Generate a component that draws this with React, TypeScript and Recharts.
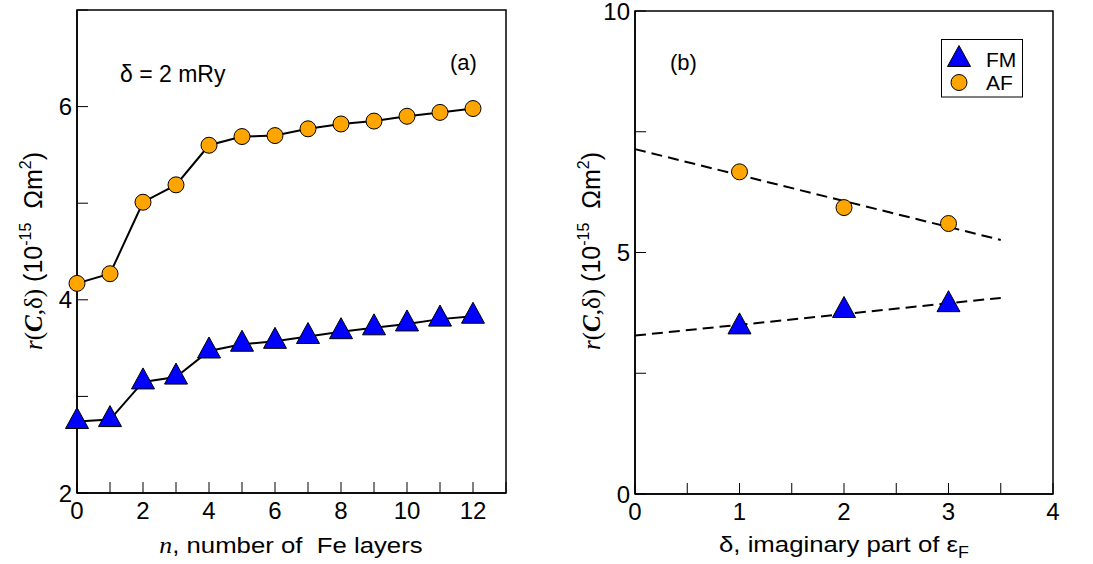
import { ComposedChart, Line, Scatter, XAxis, YAxis, ReferenceArea } from 'recharts'

// panel (a): r(C,δ) against number of Fe layers, δ = 2 mRy
const layers = [0, 1, 2, 3, 4, 5, 6, 7, 8, 9, 10, 11, 12]
const fmLayers = [2.74, 2.76, 3.15, 3.2, 3.47, 3.54, 3.57, 3.62, 3.67, 3.71, 3.75, 3.8, 3.83]
const afLayers = [4.17, 4.27, 5.01, 5.19, 5.6, 5.69, 5.7, 5.77, 5.82, 5.85, 5.9, 5.94, 5.98]

// panel (b): r(C,δ) against δ
const deltas = [1, 2, 3]
const fmDelta = [3.46, 3.8, 3.92]
const afDelta = [6.67, 5.93, 5.6]

// dashed linear fits, read at δ = 0 and δ = 3.5
const fitDelta = [0, 3.5]
const fmFit = [3.28, 4.06]
const afFit = [7.14, 5.26]

const ticksXa = [0, 1, 2, 3, 4, 5, 6, 7, 8, 9, 10, 11, 12, 13]
const ticksYa = [2, 3, 4, 5, 6, 7]
const ticksXb = [0, 0.5, 1, 1.5, 2, 2.5, 3, 3.5, 4]
const ticksYb = [0, 2.5, 5, 7.5, 10]

const dataA = layers.map((n, i) => ({ n, fm: fmLayers[i], af: afLayers[i] }))
const fmB = deltas.map((d, i) => ({ d, v: fmDelta[i] }))
const afB = deltas.map((d, i) => ({ d, v: afDelta[i] }))
const fmFitB = fitDelta.map((d, i) => ({ d, v: fmFit[i] }))
const afFitB = fitDelta.map((d, i) => ({ d, v: afFit[i] }))

const SANS = "'Liberation Sans', Arial, Helvetica, sans-serif"
const SERIF = "'Liberation Serif', 'Times New Roman', serif"
const BLUE = '#0000ff'
const ORANGE = '#ffa500'

const tickStyle = { fill: '#000', fontSize: 24, fontFamily: SANS }

function Triangle(p: any) {
  const { cx, cy } = p
  if (cx == null || cy == null) return null
  return (
    <path
      key={p.key}
      d={`M${cx},${cy - 14}L${cx + 11.5},${cy + 7}L${cx - 11.5},${cy + 7}Z`}
      fill={BLUE}
      stroke="#000"
      strokeWidth={1}
    />
  )
}

function Dot(p: any) {
  const { cx, cy } = p
  if (cx == null || cy == null) return null
  return <circle key={p.key} cx={cx} cy={cy} r={8} fill={ORANGE} stroke="#000" strokeWidth={1} />
}

const sup = { fontSize: 16, fontFamily: SANS }

function YTitle({ x, y }: { x: number; y: number }) {
  return (
    <text transform={`translate(${x},${y}) rotate(-90)`} textAnchor="middle" fontSize={25} fontFamily={SANS} fill="#000">
      <tspan fontFamily={SERIF} fontStyle="italic">r</tspan>
      <tspan fontFamily={SERIF}>(</tspan>
      <tspan fontFamily={SERIF} fontStyle="italic" fontWeight="bold">C</tspan>
      <tspan fontFamily={SERIF}>,δ)</tspan>
      <tspan style={{ whiteSpace: 'pre' }}> (10</tspan>
      <tspan {...sup} dy={-11}>-15</tspan>
      <tspan dy={11} style={{ whiteSpace: 'pre' }}>  Ωm</tspan>
      <tspan {...sup} dy={-11}>2</tspan>
      <tspan dy={11}>)</tspan>
    </text>
  )
}

export default function App() {
  return (
    <div style={{ position: 'absolute', left: 0, top: 0, width: 1093, height: 564, background: '#fff' }}>
      <div style={{ position: 'absolute', left: 0, top: 0 }}>
        <ComposedChart width={540} height={564} data={dataA} margin={{ top: 10, right: 34, left: 17, bottom: 31 }}>
          <XAxis
            dataKey="n"
            type="number"
            domain={[0, 13]}
            ticks={ticksXa}
            interval={0}
            tickFormatter={(v: number) => (v % 2 === 0 && v <= 12 ? String(v) : '')}
            height={40}
            tickSize={-11}
            tickMargin={20}
            tick={tickStyle}
            tickLine={{ stroke: '#000', strokeWidth: 1 }}
            axisLine={{ stroke: '#000', strokeWidth: 1.5 }}
          />
          <YAxis
            type="number"
            domain={[2, 7]}
            ticks={ticksYa}
            interval={0}
            tickFormatter={(v: number) => (v % 2 === 0 ? String(v) : '')}
            width={60}
            tickSize={-11}
            tickMargin={16}
            tick={tickStyle}
            tickLine={{ stroke: '#000', strokeWidth: 1 }}
            axisLine={{ stroke: '#000', strokeWidth: 1.5 }}
          />
          <ReferenceArea x1={0} x2={13} y1={2} y2={7} fill="none" fillOpacity={0} stroke="#000" strokeWidth={1.5} />
          <Line dataKey="af" stroke="#000" strokeWidth={2} dot={Dot} isAnimationActive={false} />
          <Line dataKey="fm" stroke="#000" strokeWidth={2} dot={Triangle} isAnimationActive={false} />
        </ComposedChart>
      </div>
      <div style={{ position: 'absolute', left: 540, top: 0 }}>
        <ComposedChart width={553} height={564} margin={{ top: 11, right: 40, left: 35, bottom: 30 }}>
          <XAxis
            dataKey="d"
            type="number"
            domain={[0, 4]}
            ticks={ticksXb}
            interval={0}
            tickFormatter={(v: number) => (Number.isInteger(v) ? String(v) : '')}
            height={40}
            tickSize={-11}
            tickMargin={20}
            tick={tickStyle}
            tickLine={{ stroke: '#000', strokeWidth: 1 }}
            axisLine={{ stroke: '#000', strokeWidth: 1.5 }}
          />
          <YAxis
            dataKey="v"
            type="number"
            domain={[0, 10]}
            ticks={ticksYb}
            interval={0}
            tickFormatter={(v: number) => (v % 5 === 0 ? String(v) : '')}
            width={60}
            tickSize={-11}
            tickMargin={16}
            tick={tickStyle}
            tickLine={{ stroke: '#000', strokeWidth: 1 }}
            axisLine={{ stroke: '#000', strokeWidth: 1.5 }}
          />
          <ReferenceArea x1={0} x2={4} y1={0} y2={10} fill="none" fillOpacity={0} stroke="#000" strokeWidth={1.5} />
          <Line data={afFitB} dataKey="v" stroke="#000" strokeWidth={2} strokeDasharray="11 6" dot={false} isAnimationActive={false} />
          <Line data={fmFitB} dataKey="v" stroke="#000" strokeWidth={2} strokeDasharray="11 6" dot={false} isAnimationActive={false} />
          <Scatter data={afB} dataKey="v" shape={Dot} isAnimationActive={false} />
          <Scatter data={fmB} dataKey="v" shape={Triangle} isAnimationActive={false} />
        </ComposedChart>
      </div>
      <svg width={1093} height={564} style={{ position: 'absolute', left: 0, top: 0, pointerEvents: 'none' }}>
        <text x={450} y={70} fontSize={22} fontFamily={SANS}>(a)</text>
        <text x={120} y={82} fontSize={23} fontFamily={SANS} style={{ whiteSpace: 'pre' }}>δ = 2 mRy</text>
        <text x={670} y={70} fontSize={22} fontFamily={SANS}>(b)</text>

        <rect x={941.5} y={39.5} width={81} height={57.5} fill="#fff" stroke="#000" strokeWidth={1} />
        <Triangle cx={959} cy={59.5} />
        <Dot cx={959} cy={82.5} />
        <text x={986} y={67} fontSize={21} fontFamily={SANS}>FM</text>
        <text x={986} y={90} fontSize={21} fontFamily={SANS}>AF</text>

        <text transform="translate(291,553) scale(1.12,1)" textAnchor="middle" fontSize={23} fontFamily={SANS} style={{ whiteSpace: 'pre' }}>
          <tspan fontFamily={SERIF} fontStyle="italic">n</tspan>, number of  Fe layers
        </text>
        <text transform="translate(844,552) scale(1.12,1)" textAnchor="middle" fontSize={23} fontFamily={SANS}>
          δ, imaginary part of ε<tspan fontSize={16} dy={6}>F</tspan>
        </text>

        <YTitle x={42} y={251} />
        <YTitle x={600} y={251} />
      </svg>
    </div>
  )
}
